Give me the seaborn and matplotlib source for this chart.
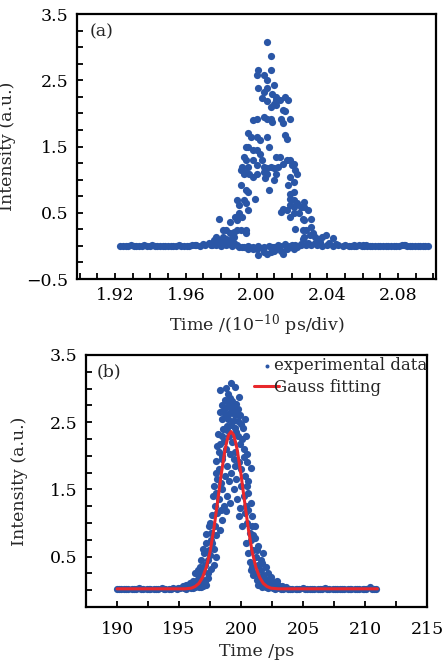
import numpy as np
import pandas as pd
import seaborn as sns
import matplotlib
matplotlib.use('Agg')
import matplotlib.pyplot as plt
from matplotlib.ticker import MultipleLocator, FixedLocator

sns.set_style('ticks')
plt.rcParams['font.family'] = ['DejaVu Serif']
plt.rcParams['mathtext.fontset'] = 'dejavuserif'
plt.rcParams['axes.unicode_minus'] = True

blue = '#2a56a6'
red = '#e8282c'

# ---- panel (a): raw sampling-scope trace ----
a_base_time = [1.923, 1.926, 1.929, 1.932, 1.935, 1.938, 1.941, 1.944, 1.947, 1.950,
               1.953, 1.956, 1.959, 1.962, 1.965, 1.968, 1.971, 1.974, 1.977, 1.980,
               1.983, 1.986, 1.989, 1.992, 1.995, 1.998, 2.001, 2.004, 2.007, 2.010,
               2.013, 2.016, 2.019, 2.022, 2.025, 2.028, 2.031, 2.034, 2.037, 2.040,
               2.043, 2.046, 2.049, 2.052, 2.055, 2.058, 2.061, 2.064, 2.067, 2.070,
               2.073, 2.076, 2.079, 2.082, 2.085, 2.088, 2.091, 2.094, 2.097,
               1.9245, 1.9275, 1.9305, 1.9335, 1.9365, 1.9395, 1.9425, 1.9455, 1.9485, 1.9515,
               1.9545, 1.9575, 1.9605, 1.9635, 2.0535, 2.0565, 2.0595, 2.0625, 2.0655, 2.0685,
               2.0715, 2.0745, 2.0775, 2.0805, 2.0835, 2.0865, 2.0895, 2.0925, 2.0955]
a_base_int = [0.00, 0.00, 0.01, 0.00, 0.00, 0.00, 0.01, 0.00, 0.00, 0.00,
              0.00, 0.01, 0.00, 0.00, 0.01, 0.00, 0.01, 0.02, 0.01, 0.00,
              0.01, 0.00, 0.02, -0.01, 0.00, -0.02, 0.00, -0.01, 0.00, -0.01,
              0.00, 0.01, 0.00, 0.01, 0.02, 0.01, 0.02, 0.01, 0.00, 0.01,
              0.00, 0.01, 0.00, 0.00, 0.00, 0.01, 0.00, 0.00, 0.00, 0.00,
              0.00, 0.00, 0.00, 0.01, 0.00, 0.00, 0.00, 0.00, 0.00,
              0.00, 0.00, 0.00, 0.00, 0.01, 0.00, 0.00, 0.00, 0.00, 0.00,
              0.00, 0.00, 0.00, 0.01, 0.00, 0.00, 0.00, 0.00, 0.00, 0.00,
              0.00, 0.00, 0.00, 0.00, 0.02, 0.00, 0.00, 0.00, 0.00]

a_peak_time = [2.006, 2.008, 2.001, 2.008, 2.000, 2.004, 2.006, 2.001, 2.006, 2.010,
               2.004, 2.009, 2.011, 2.011, 2.013, 2.016, 2.018, 2.003, 2.006, 2.008,
               2.010, 2.011, 2.015, 2.016, 1.998, 2.000, 2.004, 2.006, 2.008, 2.009,
               2.014, 2.015, 2.019, 1.995, 1.997, 2.000, 2.002, 2.006, 2.016, 2.017,
               1.994, 1.995, 1.998, 2.000, 2.002, 2.007, 1.993, 1.994, 1.998, 2.003,
               2.011, 2.013, 2.017, 2.019, 2.021, 1.992, 1.995, 2.000, 2.004, 2.006,
               2.008, 2.010, 2.012, 2.015, 2.020, 2.022, 2.023, 1.991, 1.993, 1.994,
               1.996, 2.000, 2.004, 2.006, 2.011, 1.998, 2.005, 2.010, 2.019, 2.021,
               1.991, 1.994, 1.995, 2.007, 2.018, 2.019, 2.021, 1.989, 1.990, 1.993,
               1.994, 1.995, 1.999, 2.019, 2.021, 1.988, 1.990, 1.992, 2.015, 2.017,
               2.019, 2.021, 2.023, 2.025, 2.027, 2.027, 2.029, 1.979, 1.985, 1.989,
               2.014, 2.019, 2.021, 2.024, 2.026, 2.027, 2.031, 1.981, 1.983, 1.985,
               1.987, 1.989, 1.991, 1.994, 1.994, 2.022, 2.026, 2.028, 2.031, 2.032,
               1.976, 1.977, 1.979, 1.981, 1.983, 1.985, 1.987, 2.026, 2.027, 2.030,
               2.033, 2.035, 2.037, 2.039, 2.043, 1.993, 1.995, 1.998, 2.001, 2.004,
               2.006, 2.008, 2.010, 2.011, 2.014, 2.015, 2.017, 2.019, 2.021, 2.023,
               1.966, 1.970, 1.973, 1.975, 1.978, 1.981, 1.984, 1.987, 1.990, 1.996,
               2.000, 2.003, 2.009, 2.012, 2.016, 2.020, 2.025, 2.029, 2.033, 2.036,
               2.041, 2.045, 2.050, 2.055, 2.060, 2.062, 2.084]
a_peak_int = [3.08, 2.86, 2.65, 2.65, 2.58, 2.58, 2.50, 2.39, 2.39, 2.43,
              2.33, 2.30, 2.25, 2.20, 2.20, 2.25, 2.20, 2.23, 2.18, 2.10,
              2.14, 2.12, 2.05, 2.03, 1.90, 1.92, 1.95, 1.92, 1.92, 1.87,
              1.92, 1.85, 1.92, 1.70, 1.65, 1.65, 1.60, 1.65, 1.67, 1.62,
              1.49, 1.49, 1.44, 1.44, 1.39, 1.49, 1.34, 1.29, 1.29, 1.29,
              1.34, 1.34, 1.29, 1.29, 1.24, 1.19, 1.19, 1.22, 1.19, 1.17,
              1.19, 1.17, 1.19, 1.24, 1.22, 1.14, 1.09, 1.14, 1.09, 1.12,
              1.09, 1.09, 1.12, 1.09, 1.09, 1.04, 1.02, 0.99, 1.04, 0.97,
              0.92, 0.84, 0.81, 0.84, 0.92, 0.79, 0.81, 0.69, 0.61, 0.69,
              0.64, 0.54, 0.71, 0.71, 0.69, 0.44, 0.49, 0.44, 0.56, 0.54,
              0.61, 0.59, 0.64, 0.59, 0.66, 0.59, 0.54, 0.41, 0.36, 0.39,
              0.51, 0.44, 0.49, 0.49, 0.41, 0.39, 0.41, 0.24, 0.24, 0.19,
              0.21, 0.24, 0.24, 0.24, 0.19, 0.26, 0.24, 0.24, 0.29, 0.19,
              0.09, 0.13, 0.09, 0.13, 0.11, 0.09, 0.13, 0.11, 0.13, 0.16,
              0.13, 0.11, 0.13, 0.16, 0.12, -0.02, -0.04, -0.04, -0.14, -0.09,
              -0.12, -0.09, -0.07, -0.04, -0.07, -0.12, -0.04, -0.02, -0.04, -0.02,
              0.02, 0.03, 0.05, 0.02, 0.04, 0.06, 0.03, 0.05, -0.01, -0.02,
              -0.05, -0.03, -0.02, 0.02, 0.03, 0.01, 0.03, 0.05, 0.04, 0.06,
              0.04, 0.03, 0.02, 0.01, 0.01, 0.02, 0.02]

# ---- panel (b): rescaled trace + Gauss fit ----
b_base_time = [190.0, 190.3, 190.6, 190.9, 191.2, 191.5, 191.8, 192.1, 192.4, 192.7,
               193.0, 193.3, 193.6, 193.9, 194.2, 194.5, 194.8, 195.1, 195.4, 195.7,
               196.0, 196.3, 196.6, 196.9, 197.2, 201.4, 201.7, 202.0, 202.3, 202.6,
               202.9, 203.2, 203.5, 203.8, 204.1, 204.4, 204.7, 205.0, 205.3, 205.6,
               205.9, 206.2, 206.5, 206.8, 207.1, 207.4, 207.7, 208.0, 208.3, 208.6,
               208.9, 209.2, 209.5, 209.8, 210.1, 210.4, 210.7, 210.9,
               190.15, 190.75, 191.35, 191.95, 192.55, 193.15, 193.75, 194.35, 194.95, 195.55,
               196.15, 196.75, 202.15, 202.75, 203.35, 203.95, 204.55, 205.15, 205.75, 206.35,
               206.95, 207.55, 208.15, 208.75, 209.35, 209.95, 210.55]
b_base_int = [0.02, 0.02, 0.01, 0.02, 0.02, 0.02, 0.03, 0.02, 0.02, 0.02,
              0.02, 0.02, 0.03, 0.02, 0.02, 0.03, 0.02, 0.03, 0.03, 0.04,
              0.03, 0.05, 0.04, 0.06, 0.08, 0.07, 0.05, 0.04, 0.04, 0.03,
              0.03, 0.02, 0.03, 0.02, 0.02, 0.02, 0.02, 0.03, 0.02, 0.02,
              0.02, 0.02, 0.02, 0.03, 0.02, 0.02, 0.02, 0.02, 0.02, 0.02,
              0.02, 0.02, 0.02, 0.02, 0.02, 0.05, 0.02, 0.02,
              0.01, 0.02, 0.02, 0.01, 0.02, 0.02, 0.02, 0.02, 0.03, 0.02,
              0.03, 0.04, 0.03, 0.02, 0.02, 0.02, 0.02, 0.01, 0.02, 0.02,
              0.02, 0.02, 0.02, 0.02, 0.02, 0.02, 0.02]

b_peak_time = [199.16, 198.75, 199.50, 198.30, 198.97, 199.80, 198.70, 199.24, 199.56, 198.43,
               198.84, 199.37, 199.77, 199.00, 199.10, 198.30, 198.70, 199.10, 199.50, 198.48,
               198.97, 199.37, 199.77, 200.17, 198.84, 199.50, 198.60, 199.30, 199.90, 200.00,
               198.55, 199.20, 198.90, 199.65, 200.30, 198.16, 198.43, 199.77, 200.04, 198.03,
               199.90, 198.30, 198.60, 198.80, 199.00, 199.30, 199.50, 199.60, 200.20, 200.40,
               198.20, 198.90, 199.10, 200.50, 198.45, 198.00, 198.20, 198.50, 198.70, 198.90,
               199.20, 199.40, 199.60, 199.80, 200.00, 200.30, 200.50, 200.84, 198.10, 198.40,
               199.00, 200.20, 199.55, 197.95, 200.60, 197.80, 198.00, 198.20, 198.45, 198.60,
               198.90, 199.10, 199.40, 199.70, 200.00, 200.20, 200.40, 200.60, 200.80, 197.90,
               198.35, 199.90, 200.50, 197.75, 197.50, 197.70, 197.90, 198.10, 198.30, 198.50,
               198.75, 199.80, 200.10, 200.30, 200.50, 200.70, 200.90, 201.10, 197.20, 197.60,
               198.00, 200.60, 201.00, 196.80, 197.00, 197.20, 197.40, 197.60, 197.80, 198.00,
               197.30, 200.40, 200.60, 200.80, 201.00, 201.20, 201.40, 201.60, 200.70, 201.10,
               197.50, 196.90, 201.80, 196.30, 196.50, 196.70, 196.90, 197.10, 197.30, 197.60,
               196.60, 200.90, 201.20, 201.40, 201.60, 201.80, 202.00, 202.20, 201.50, 201.00,
               202.40, 197.80, 200.80, 195.60, 195.90, 196.10, 196.30, 196.50, 196.70, 196.90,
               197.10, 197.30, 201.30, 201.60, 201.90, 202.10, 202.40, 202.70, 203.00, 202.20,
               202.90, 203.30, 196.00, 195.30, 203.60, 197.40, 197.70, 200.90, 201.30, 201.70]
b_peak_int = [3.09, 3.01, 3.02, 2.98, 2.92, 2.87, 2.83, 2.82, 2.77, 2.75,
              2.72, 2.72, 2.70, 2.78, 2.86, 2.65, 2.62, 2.63, 2.60, 2.55,
              2.55, 2.52, 2.52, 2.42, 2.45, 2.42, 2.68, 2.66, 2.60, 2.48,
              2.40, 2.46, 2.60, 2.64, 2.55, 2.32, 2.30, 2.30, 2.25, 2.15,
              2.18, 2.18, 2.22, 2.10, 2.30, 2.20, 2.05, 2.35, 2.10, 2.30,
              2.05, 2.38, 2.02, 2.02, 2.00, 1.92, 1.80, 1.95, 1.70, 1.85,
              1.75, 1.95, 1.65, 1.90, 1.80, 1.70, 1.90, 1.82, 1.65, 1.60,
              1.62, 1.98, 1.85, 1.75, 1.62, 1.55, 1.45, 1.35, 1.50, 1.25,
              1.40, 1.30, 1.50, 1.35, 1.55, 1.40, 1.25, 1.45, 1.30, 1.25,
              1.20, 1.22, 1.55, 1.40, 1.00, 1.12, 0.95, 1.15, 0.90, 1.05,
              1.18, 1.10, 0.95, 1.15, 1.00, 0.85, 1.10, 0.95, 0.83, 0.85,
              0.82, 1.20, 0.82, 0.45, 0.55, 0.70, 0.60, 0.75, 0.62, 0.50,
              0.45, 0.70, 0.55, 0.75, 0.60, 0.50, 0.65, 0.45, 0.42, 0.78,
              0.52, 0.62, 0.55, 0.25, 0.30, 0.35, 0.28, 0.38, 0.25, 0.32,
              0.22, 0.35, 0.25, 0.38, 0.30, 0.22, 0.35, 0.25, 0.20, 0.22,
              0.20, 0.38, 0.30, 0.08, 0.10, 0.14, 0.12, 0.17, 0.10, 0.15,
              0.12, 0.18, 0.15, 0.10, 0.16, 0.12, 0.10, 0.12, 0.08, 0.07,
              0.14, 0.06, 0.05, 0.06, 0.05, 0.95, 0.70, 0.95, 0.60, 0.40]

fit_time = [190.0, 194.0, 195.5, 196.0, 196.3, 196.6, 196.9, 197.2, 197.5, 197.8,
            198.1, 198.4, 198.7, 198.85, 199.0, 199.2, 199.4, 199.55, 199.7, 200.0,
            200.3, 200.6, 200.9, 201.2, 201.5, 201.8, 202.1, 202.4, 203.0, 204.5, 211.0]
fit_int = [0.02, 0.02, 0.02, 0.03, 0.055, 0.10, 0.19, 0.34, 0.57, 0.90,
           1.30, 1.72, 2.08, 2.21, 2.31, 2.36, 2.31, 2.21, 2.08, 1.72,
           1.30, 0.90, 0.57, 0.34, 0.19, 0.10, 0.055, 0.03, 0.02, 0.02, 0.02]

df_a = pd.DataFrame({'time': a_base_time + a_peak_time,
                     'intensity': a_base_int + a_peak_int})
df_b = pd.DataFrame({'time': b_base_time + b_peak_time,
                     'intensity': b_base_int + b_peak_int})
df_fit = pd.DataFrame({'time': fit_time, 'intensity': fit_int})

fs = 12.5
fig = plt.figure(figsize=(4.45, 6.67), dpi=100)
ax1 = fig.add_axes([0.173, 0.5817, 0.807, 0.3973])
ax2 = fig.add_axes([0.1933, 0.09, 0.7663, 0.3778])

sns.scatterplot(data=df_a, x='time', y='intensity', ax=ax1, color=blue,
                s=27, linewidth=0, legend=False)
sns.scatterplot(data=df_b, x='time', y='intensity', ax=ax2, color=blue,
                s=27, linewidth=0, label='experimental data')
sns.lineplot(data=df_fit, x='time', y='intensity', ax=ax2, color=red,
             linewidth=2.2, label='Gauss fitting')

# axes (a)
ax1.set_xlim(1.8985, 2.1015)
ax1.set_ylim(-0.5, 3.5)
ax1.xaxis.set_major_locator(FixedLocator([1.92, 1.96, 2.00, 2.04, 2.08]))
ax1.xaxis.set_minor_locator(MultipleLocator(0.01))
ax1.set_xticklabels(['1.92', '1.96', '2.00', '2.04', '2.08'])
ax1.yaxis.set_major_locator(FixedLocator([-0.5, 0.5, 1.5, 2.5, 3.5]))
ax1.yaxis.set_minor_locator(MultipleLocator(0.25))
ax1.set_xlabel('Time /(10$^{-10}$ ps/div)', fontsize=fs, labelpad=6)
ax1.set_ylabel('Intensity (a.u.)', fontsize=fs)
ax1.yaxis.set_label_coords(-0.17, 0.5)
ax1.text(0.035, 0.965, '(a)', transform=ax1.transAxes, va='top', ha='left', fontsize=fs)

# axes (b)
ax2.set_xlim(187.5, 215)
ax2.set_ylim(-0.25, 3.5)
ax2.xaxis.set_major_locator(MultipleLocator(5))
ax2.xaxis.set_minor_locator(MultipleLocator(2.5))
ax2.yaxis.set_major_locator(FixedLocator([0.5, 1.5, 2.5, 3.5]))
ax2.yaxis.set_minor_locator(MultipleLocator(0.25))
ax2.set_xlabel('Time /ps', fontsize=fs, labelpad=4)
ax2.set_ylabel('Intensity (a.u.)', fontsize=fs)
ax2.yaxis.set_label_coords(-0.17, 0.5)
ax2.text(0.03, 0.965, '(b)', transform=ax2.transAxes, va='top', ha='left', fontsize=fs)
ax2.legend(loc='upper right', bbox_to_anchor=(1.03, 1.03), frameon=False,
           fontsize=12, markerscale=0.55, handlelength=1.5, handletextpad=-0.3,
           labelspacing=0.25, borderaxespad=0.2)

for ax in (ax1, ax2):
    for sp in ax.spines.values():
        sp.set_visible(True)
        sp.set_linewidth(1.6)
        sp.set_color('black')
    ax.tick_params(which='both', direction='in', top=False, right=False,
                   width=1.3, length=4, labelsize=fs, colors='black')
    ax.tick_params(which='major', pad=6)
ax2.tick_params(axis='x', which='major', pad=10)

fig.savefig('out.png', dpi=100)
